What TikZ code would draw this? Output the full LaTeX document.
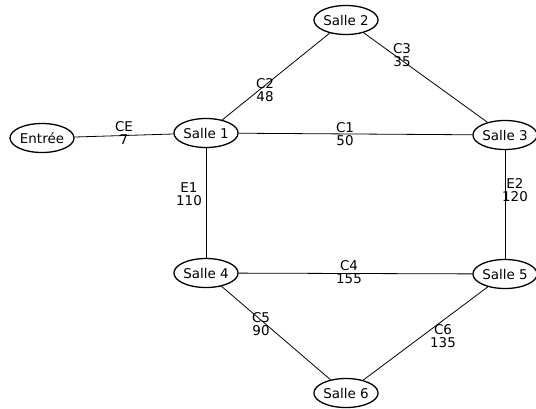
\documentclass[tikz,border=0pt]{standalone}
\usepackage{fontspec}
\setmainfont{DejaVu Sans}
\usetikzlibrary{shapes.geometric}
\begin{document}
\begin{tikzpicture}[x=1bp,y=-1bp,
  room/.style={draw,ellipse,line width=1.3bp,inner sep=0pt,minimum width=62bp,minimum height=29bp,font=\fontsize{13.5}{13.5}\selectfont},
  edgelbl/.style={inner sep=0pt,align=center,font=\fontsize{13.5}{13}\selectfont},
  conn/.style={line width=0.8bp}]
\useasboundingbox (0,0) rectangle (536,408);
\node[room,minimum width=64bp] (en) at (42,138) {Entrée};
\node[room] (s1) at (206,133) {Salle 1};
\node[room,minimum width=63bp] (s2) at (346,20) {Salle 2};
\node[room] (s3) at (505,135) {Salle 3};
\node[room] (s4) at (206,273) {Salle 4};
\node[room] (s5) at (505,274) {Salle 5};
\node[room,minimum width=63bp] (s6) at (346,393) {Salle 6};
\draw[conn] (en) -- (s1);
\draw[conn] (s1) -- (s2);
\draw[conn] (s2) -- (s3);
\draw[conn] (s1) -- (s3);
\draw[conn] (s1.south) -- (s4.north);
\draw[conn] (s3.south) -- (s5.north);
\draw[conn] (s4) -- (s5);
\draw[conn] (s4) -- (s6);
\draw[conn] (s5) -- (s6);
\node[edgelbl] (lce) at (124,133) {CE\\7};
\node[edgelbl] (lc2) at (265,90) {C2\\48};
\node[edgelbl] (lc3) at (402,55) {C3\\35};
\node[edgelbl] (lc1) at (345,134) {C1\\50};
\node[edgelbl] (le1) at (189,194) {E1\\110};
\node[edgelbl] (le2) at (515,190) {E2\\120};
\node[edgelbl] (lc4) at (349,272) {C4\\155};
\node[edgelbl] (lc5) at (261,324) {C5\\90};
\node[edgelbl] (lc6) at (443,336) {C6\\135};
\end{tikzpicture}
\end{document}
